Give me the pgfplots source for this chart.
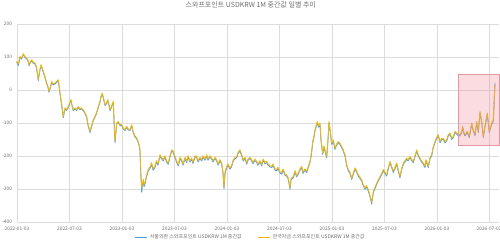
\documentclass[border=0pt]{standalone}
\usepackage{pgfplots}
\pgfplotsset{compat=1.18}
\usepackage{pgfplotstable}
\usepackage{fontspec}
\setmainfont{Noto Sans CJK KR}
\definecolor{seoul}{RGB}{91,155,213}
\definecolor{kmf}{RGB}{238,184,16}
\definecolor{gridc}{RGB}{220,220,220}
\definecolor{txt}{RGB}{110,110,110}
\definecolor{boxfill}{RGB}{240,140,155}
\definecolor{boxline}{RGB}{232,150,162}
\pgfplotstableread{
px a b
16.7 84 88
18.3 74 78
20 99 102
21.5 93 96
23.3 108 110
25 98 101
26.7 94 97
28 88 90
29 74 77
30.5 83 86
31.7 89 92
33 82 85
35 79 82
36.5 68 71
38.3 28 32
39.5 53 56
41 74 77
42 66 69
43.3 53 56
45 38 41
46.7 18 21
48 8 11
49 -7 -4
50.5 8 11
51.7 23 26
53 16 19
55 18 21
56.5 23 26
58.3 28 31
59 13 16
60 -12 -9
61.5 -42 -38
63.3 -84 -80
64 -72 -68
65 -57 -54
66.5 -62 -59
68.3 -53 -50
69.5 -42 -39
71 -32 -29
72 -47 -44
73.3 -63 -60
75 -57 -54
76.5 -62 -59
78.3 -53 -50
80 -60 -57
81.5 -57 -54
83.3 -63 -60
85 -72 -69
86.7 -83 -80
88 -107 -104
90 -129 -125
91.5 -112 -109
93.3 -93 -90
95 -82 -79
96.5 -72 -69
98.3 -53 -50
100 -37 -34
101 -22 -19
102.3 -12 -9
103.5 -27 -24
105 -47 -44
106.5 -42 -39
107.7 -32 -29
109 -47 -44
110 -63 -60
111.5 -52 -49
113.3 -37 -34
114 -92 -88
115 -160 -154
116.7 -103 -100
118.3 -98 -95
120 -108 -105
121.7 -108 -105
123.3 -118 -115
125 -123 -120
126.7 -113 -110
128 -120 -117
130 -123 -120
131.7 -108 -105
133 -127 -124
135 -143 -140
136.5 -147 -144
138.3 -159 -156
139 -167 -164
140 -185 -181
140.8 -255 -248
141.7 -310 -296
142.5 -288 -282
143.3 -276 -270
144 -293 -287
145 -286 -280
146.5 -263 -258
148.3 -245 -240
150 -238 -233
151.7 -225 -220
153 -243 -238
155 -235 -230
156.5 -218 -214
158 -228 -224
160 -200 -196
161.5 -208 -204
163.3 -215 -211
165 -203 -199
166.5 -218 -214
168.3 -225 -221
170 -203 -199
171.7 -185 -181
173 -188 -184
175 -205 -201
176.5 -218 -214
178.3 -230 -226
180 -208 -204
181.7 -215 -211
183 -228 -224
185 -208 -204
186.7 -220 -216
188 -203 -199
190 -218 -214
191.7 -210 -206
193 -223 -219
195 -203 -199
196.7 -205 -201
198 -218 -214
200 -208 -204
201.7 -215 -211
203 -203 -199
205 -213 -209
206.7 -200 -196
208 -213 -209
210 -203 -199
211.7 -210 -206
213 -218 -214
215 -208 -204
216.7 -215 -211
218 -228 -224
220 -215 -211
221.7 -225 -221
223 -253 -248
224 -300 -295
225 -253 -248
226.7 -235 -231
228 -228 -224
230 -240 -236
231.5 -233 -229
233.3 -215 -211
235 -208 -204
236.7 -205 -201
238 -193 -189
240 -185 -181
241.5 -198 -194
243.3 -215 -211
245 -208 -204
246.7 -225 -221
248 -213 -209
250 -208 -204
251.7 -215 -211
253 -223 -219
255 -213 -209
256.7 -220 -216
258 -228 -224
260 -218 -214
261.7 -230 -226
263 -213 -209
265 -223 -219
266.7 -220 -216
268 -228 -224
270 -233 -229
271.7 -235 -231
273 -228 -224
275 -243 -239
276.7 -245 -241
278 -238 -234
280 -251 -247
281.7 -255 -251
283 -243 -239
285 -258 -254
286.7 -261 -257
288 -268 -264
289 -283 -279
290 -301 -296
291 -273 -269
293.3 -266 -262
295 -248 -244
296.5 -263 -259
298.3 -255 -251
300 -243 -239
301.7 -235 -231
303 -253 -249
305 -243 -239
306.7 -250 -246
308 -238 -234
310 -220 -216
311.5 -193 -189
312.7 -160 -156
314 -143 -139
315 -124 -120
316 -113 -109
317.3 -99 -95
318.5 -113 -109
320 -104 -100
321 -153 -149
322.7 -195 -191
324 -173 -169
325 -185 -181
326 -198 -194
326.7 -205 -201
328 -153 -149
329 -99 -95
330.5 -133 -129
331.7 -165 -161
333.3 -155 -151
335 -180 -176
336.5 -168 -164
338.3 -160 -156
340 -165 -161
341.7 -175 -171
343 -183 -179
345 -200 -196
346.5 -228 -224
348.3 -245 -241
350 -253 -249
351.7 -271 -267
353 -258 -254
355 -240 -236
356.5 -248 -244
358.3 -261 -257
360 -268 -264
361.7 -276 -272
363 -288 -284
365 -301 -297
366.5 -293 -289
368.3 -306 -302
370 -323 -319
371.7 -346 -340
373.3 -311 -307
375 -298 -294
376.7 -286 -282
378 -278 -274
380 -266 -262
381.5 -258 -254
383.3 -245 -241
385 -253 -249
386.7 -261 -257
388 -243 -239
390 -220 -216
391.5 -233 -229
393.3 -250 -246
395 -238 -234
396.7 -225 -221
398 -243 -239
400 -266 -262
401.5 -243 -239
403.3 -225 -221
405 -218 -214
406.7 -210 -206
408 -215 -211
410 -205 -201
411.5 -213 -209
413.3 -220 -216
415 -203 -199
416.7 -185 -181
418 -198 -194
420 -210 -206
421.5 -218 -214
423.3 -225 -221
425 -235 -231
426 -215 -211
428.3 -235 -231
430 -208 -204
431.7 -200 -196
433 -178 -174
435 -160 -156
436.5 -148 -144
438.3 -139 -135
440 -160 -156
441.7 -150 -146
443.3 -150 -146
445 -160 -156
446.7 -155 -151
448.3 -139 -135
450 -134 -130
451.7 -150 -146
453.3 -144 -140
455 -129 -125
456.7 -134 -130
458.3 -139 -135
460 -139 -135
461.7 -129 -125
462.7 -114 -110
464 -133 -129
465 -139 -135
467.3 -129 -125
469.3 -144 -140
471.7 -104 -100
473.3 -124 -120
475 -139 -135
476.7 -99 -95
478.3 -129 -125
480 -69 -65
481.7 -99 -95
483.3 -144 -140
485.7 -99 -95
487.3 -74 -70
489.3 -129 -125
491.7 -104 -100
493.3 -94 -90
494.3 -28 -24
495 22 15
}\swap
\begin{document}
\begin{tikzpicture}
\useasboundingbox (0,0) rectangle (500pt,-246pt);
\begin{axis}[
  at={(17pt,-222pt)}, anchor=south west,
  scale only axis, width=482pt, height=198pt,
  xmin=17, xmax=499, ymin=-400, ymax=200,
  xtick={17,69.5,122,174.5,227,279.5,332,384.5,437,489},
  xticklabels={2022-01-03,2022-07-03,2023-01-03,2023-07-03,2024-01-03,2024-07-03,2025-01-03,2025-07-03,2026-01-03,2026-07-03},
  ytick={-400,-300,-200,-100,0,100,200},
  grid=major, major grid style={gridc, line width=0.5pt},
  axis line style={draw=none}, major tick length=0pt,
  tick label style={font=\fontsize{4.8}{5}\selectfont, text=txt},
  /pgf/number format/assume math mode=true,
  xticklabel style={yshift=-1pt},
  yticklabel style={xshift=-1.5pt},
  title={스와프포인트 USDKRW 1M 중간값 일별 추이},
  title style={font=\fontsize{7}{8}\selectfont, text=txt, at={(axis description cs:0.485,1)}, anchor=south, yshift=6.5pt},
  legend style={at={(axis description cs:0.485,-0.076)}, anchor=center, draw=none, fill=none,
    font=\fontsize{5}{6}\selectfont, text=txt, legend columns=2,
    /tikz/every even column/.append style={column sep=14pt}},
  legend image code/.code={\draw[#1, line width=1pt] (0pt,0pt) -- (12pt,0pt);},
  clip=false,
]
\addplot[seoul, line width=0.85pt, line join=round] table[x=px, y=a] {\swap};
\addlegendentry{서울외환 스와프포인트 USDKRW 1M 중간값}
\addplot[kmf, line width=0.85pt, line join=round] table[x=px, y=b] {\swap};
\addlegendentry{한국자금 스와프포인트 USDKRW 1M 중간값}
\fill[boxfill, opacity=0.3] (axis cs:458.3,47) rectangle (axis cs:499.3,-167);
\draw[boxline, line width=0.6pt] (axis cs:458.3,47) rectangle (axis cs:499.3,-167);
\end{axis}
\end{tikzpicture}
\end{document}
